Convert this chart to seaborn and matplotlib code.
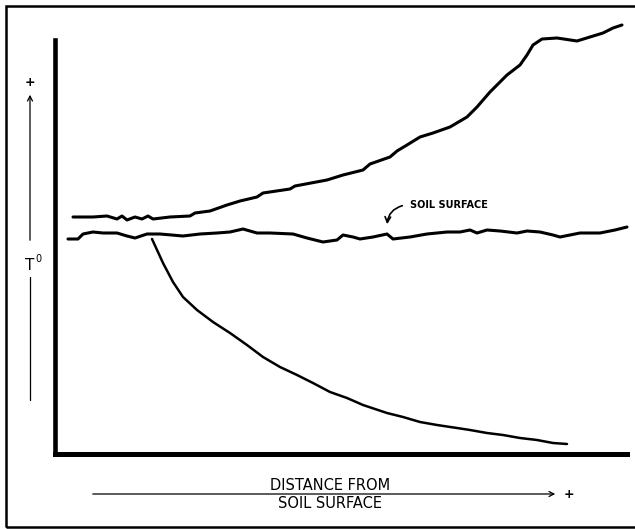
import numpy as np
import pandas as pd
import seaborn as sns
import matplotlib.pyplot as plt
from matplotlib.patches import Rectangle

sns.set_style("white")
plt.rcParams['font.family'] = ['DejaVu Sans']
plt.rcParams['text.color'] = 'black'

# distance from soil surface (arbitrary units) and temperature (arbitrary units)
above_dist = [1.8, 3.8, 5.2, 6.2, 6.7, 7.2, 8.0, 8.7, 9.3, 9.8, 11.5, 13.5, 14.0, 15.5,
              17.2, 18.5, 20.2, 20.8, 23.5, 24.0, 27.2, 28.8, 30.8, 31.5, 33.5, 34.2,
              35.2, 36.5, 37.8, 39.5, 41.2, 42.2, 43.5, 45.2, 46.5, 47.2, 47.8, 48.7,
              50.2, 52.2, 53.5, 54.8, 55.8, 56.7]
above_temp = [23.7, 23.7, 23.8, 23.5, 23.8, 23.4, 23.7, 23.5, 23.8, 23.5, 23.7, 23.8, 24.1, 24.3,
              24.9, 25.3, 25.7, 26.1, 26.5, 26.8, 27.4, 27.9, 28.4, 29.0, 29.7, 30.3,
              30.9, 31.7, 32.1, 32.7, 33.7, 34.7, 36.2, 37.9, 38.9, 39.9, 40.9, 41.5,
              41.6, 41.3, 41.7, 42.1, 42.6, 42.9]

surface_dist = [1.3, 2.3, 2.8, 3.8, 4.8, 6.2, 7.2, 8.0, 9.2, 10.5, 12.8, 14.5, 16.2, 17.5,
                18.8, 20.2, 21.5, 23.8, 25.2, 26.8, 28.2, 28.8, 29.8, 30.5, 31.8, 33.2,
                33.8, 35.5, 37.2, 39.2, 40.5, 41.5, 42.2, 43.2, 44.5, 46.2, 47.2, 48.5,
                49.8, 50.5, 52.5, 54.5, 56.0, 57.2]
surface_temp = [21.5, 21.5, 22.0, 22.2, 22.1, 22.1, 21.8, 21.6, 22.0, 22.0, 21.8, 22.0, 22.1, 22.2,
                22.5, 22.1, 22.1, 22.0, 21.6, 21.2, 21.4, 21.9, 21.7, 21.5, 21.7, 22.0,
                21.5, 21.7, 22.0, 22.2, 22.2, 22.4, 22.1, 22.4, 22.3, 22.1, 22.3, 22.2,
                21.9, 21.7, 22.1, 22.1, 22.4, 22.7]

below_dist = [9.7, 10.8, 11.8, 12.8, 14.2, 15.8, 17.5, 19.2, 20.8, 22.5, 24.2, 25.8, 27.5,
              29.2, 30.8, 33.2, 34.8, 36.5, 38.2, 40.2, 41.5, 43.2, 44.8, 46.5, 48.2,
              49.8, 51.2]
below_temp = [21.5, 19.1, 17.2, 15.7, 14.4, 13.2, 12.1, 10.9, 9.7, 8.7, 7.9, 7.1, 6.2,
              5.6, 4.9, 4.1, 3.7, 3.2, 2.9, 2.6, 2.4, 2.1, 1.9, 1.6, 1.4,
              1.1, 1.0]

W, H = 635, 529


def fp(x, y):
    # pixel position (from top left) to figure fraction
    return (x / W, 1 - y / H)


fig = plt.figure(figsize=(W / 100, H / 100), dpi=100)
ax = fig.add_axes([55 / W, 1 - 454 / H, 572 / W, 414 / H])

for d, t, lw in [(above_dist, above_temp, 2.2),
                 (surface_dist, surface_temp, 2.2),
                 (below_dist, below_temp, 1.8)]:
    sns.lineplot(x=d, y=t, ax=ax, color="black", linewidth=lw, sort=False,
                 estimator=None, clip_on=False)

ax.set_xlim(0, 57.2)
ax.set_ylim(0, 41.4)
ax.set_xticks([])
ax.set_yticks([])
sns.despine(ax=ax)
ax.spines['left'].set_linewidth(3.3)
ax.spines['bottom'].set_linewidth(3.6)
ax.spines['left'].set_color("black")
ax.spines['bottom'].set_color("black")
ax.set_facecolor("none")

# outer frame
fig.patches.append(Rectangle(fp(6, 527), 700 / W, 521 / H, transform=fig.transFigure,
                             fill=False, edgecolor="black", linewidth=1.8))

# soil surface note
fig.text(*fp(410, 205), "SOIL SURFACE", fontsize=7, fontweight="bold", ha="left", va="center")
ax.annotate("", xy=fp(387, 227), xytext=fp(405, 205), xycoords="figure fraction",
            textcoords="figure fraction",
            arrowprops=dict(arrowstyle="->,head_length=0.4,head_width=0.2", color="black",
                            lw=1.2, connectionstyle="arc3,rad=0.4"))

# y axis label with arrow
fig.text(*fp(30, 266), "T", fontsize=11, ha="center", va="center")
fig.text(*fp(38, 259), "0", fontsize=7, ha="center", va="center")
fig.add_artist(plt.Line2D([30 / W, 30 / W], [1 - 400 / H, 1 - 277 / H], color="black", lw=0.9))
ax.annotate("", xy=fp(30, 92), xytext=fp(30, 243), xycoords="figure fraction",
            textcoords="figure fraction",
            arrowprops=dict(arrowstyle="->,head_length=0.35,head_width=0.18", color="black", lw=0.9))
fig.text(*fp(30, 82), "+", fontsize=9, fontweight="bold", ha="center", va="center")

# x axis label with arrow
ax.annotate("", xy=fp(558, 494), xytext=fp(90, 494), xycoords="figure fraction",
            textcoords="figure fraction",
            arrowprops=dict(arrowstyle="->,head_length=0.35,head_width=0.18", color="black", lw=0.9))
fig.text(*fp(569, 494), "+", fontsize=9, fontweight="bold", ha="center", va="center")
fig.text(*fp(330, 485), "DISTANCE FROM", fontsize=10.5, ha="center", va="center")
fig.text(*fp(330, 503), "SOIL SURFACE", fontsize=10.5, ha="center", va="center")

fig.savefig("out.png", dpi=100)
